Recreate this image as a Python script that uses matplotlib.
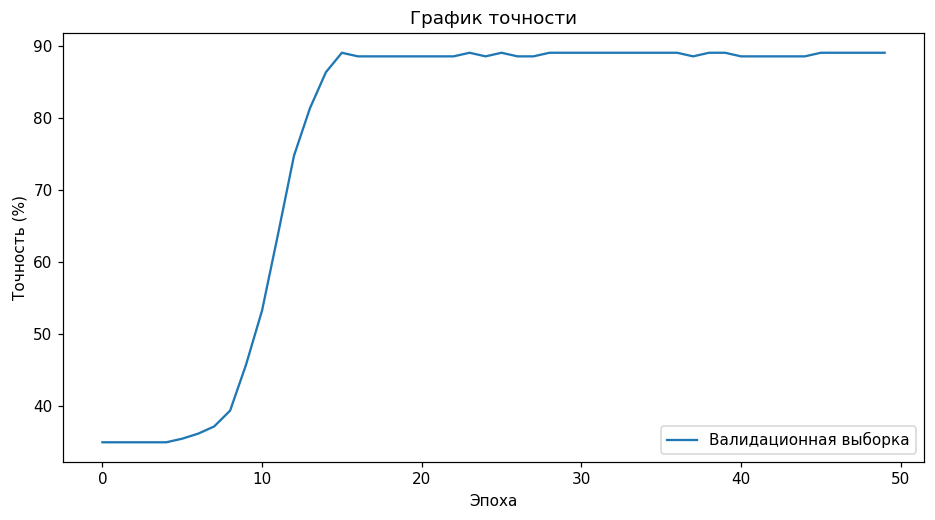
import numpy as np
import matplotlib
matplotlib.use("Agg")
import matplotlib.pyplot as plt

epochs = list(range(50))
val_acc = [
    34.9, 34.9, 34.9, 34.9, 34.9, 35.4, 36.1, 37.1, 39.3, 45.7,
    53.2, 63.8, 74.7, 81.3, 86.3, 89.0, 88.5, 88.5, 88.5, 88.5,
    88.5, 88.5, 88.5, 89.0, 88.5, 89.0, 88.5, 88.5, 89.0, 89.0,
    89.0, 89.0, 89.0, 89.0, 89.0, 89.0, 89.0, 88.5, 89.0, 89.0,
    88.5, 88.5, 88.5, 88.5, 88.5, 89.0, 89.0, 89.0, 89.0, 89.0,
]

# rendered at a slightly higher dpi so the text comes out a bit larger
fig = plt.figure(figsize=(8.5, 520 / 110), dpi=110)
ax = fig.add_subplot(111)
fig.subplots_adjust(left=0.0677, right=0.988, top=0.936, bottom=0.112)

ax.plot(epochs, val_acc, color='#1f77b4', label='Валидационная выборка')
ax.set_title('График точности')
ax.set_xlabel('Эпоха')
ax.set_ylabel('Точность (%)')
ax.legend(loc='lower right')

fig.savefig('out.png', dpi=110)
